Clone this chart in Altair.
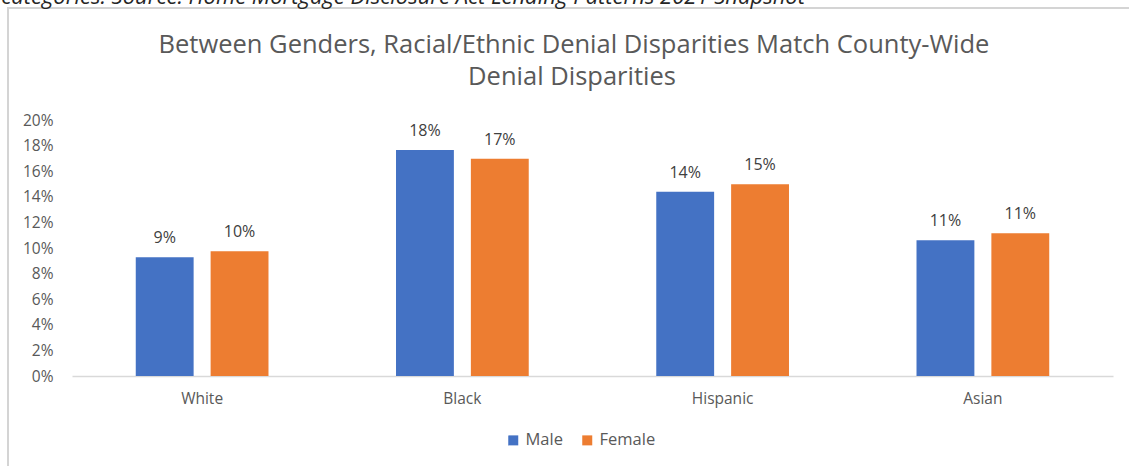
import altair as alt
import pandas as pd

groups = ["White", "Black", "Hispanic", "Asian"]
genders = ["Male", "Female"]
male_rate = [0.0927, 0.1766, 0.1440, 0.1060]
female_rate = [0.0974, 0.1698, 0.1498, 0.1115]
colors = ["#4472C4", "#ED7D31"]
y_ticks = [0.0, 0.02, 0.04, 0.06, 0.08, 0.10, 0.12, 0.14, 0.16, 0.18, 0.20]
title_lines = ["Between Genders, Racial/Ethnic Denial Disparities Match County-Wide",
               "Denial Disparities"]
source_note = "Race categories. Source: Home Mortgage Disclosure Act Lending Patterns 2021 Snapshot"

rows = []
for g, m, f in zip(groups, male_rate, female_rate):
    rows.append({"group": g, "gender": "Male", "rate": m})
    rows.append({"group": g, "gender": "Female", "rate": f})
df = pd.DataFrame(rows)

W, H = 1041, 256
FONT = "Open Sans"

x_enc = alt.X("group:N", sort=groups, title=None,
              scale=alt.Scale(paddingInner=0.49, paddingOuter=0.245),
              axis=alt.Axis(labelAngle=0, labelFontSize=15.5, labelColor="#595959",
                            labelFont=FONT, labelPadding=15, ticks=False,
                            domainColor="#d9d9d9", domainWidth=1.5, grid=False))
xoff_enc = alt.XOffset("gender:N", sort=genders,
                       scale=alt.Scale(paddingInner=0.227, paddingOuter=0))
y_enc = alt.Y("rate:Q", title=None,
              scale=alt.Scale(domain=[0, 0.2], nice=False),
              axis=alt.Axis(values=y_ticks, format=".0%", labelFontSize=15.5,
                            labelColor="#595959", labelFont=FONT, labelPadding=19,
                            labelOverlap=False, ticks=False, domain=False, grid=False))
color_enc = alt.Color("gender:N", sort=genders,
                      scale=alt.Scale(domain=genders, range=colors),
                      legend=alt.Legend(title=None, orient="none", direction="horizontal",
                                        legendX=433, legendY=312, symbolType="square",
                                        symbolSize=100, symbolStrokeWidth=0,
                                        labelFontSize=16.5, labelColor="#595959",
                                        labelFont=FONT, columnPadding=16,
                                        symbolOpacity=1))

base = alt.Chart(df)
bars = base.mark_bar(strokeWidth=0).encode(
    x=x_enc, xOffset=xoff_enc, y=y_enc, color=color_enc)
labels = base.mark_text(baseline="bottom", dy=-11, fontSize=16, color="#404040",
                        font=FONT).encode(
    x=x_enc, xOffset=xoff_enc, y=y_enc,
    text=alt.Text("rate:Q", format=".0%"))

one = alt.Data(values=[{"k": 0}])
frame = alt.Chart(one).mark_rect(fill="transparent", stroke="#d4d4d4",
                                 strokeWidth=2).encode(
    x=alt.value(-64), x2=alt.value(W + 80), y=alt.value(-112), y2=alt.value(H + 140))

title1 = alt.Chart(one).mark_text(text=title_lines[0], fontSize=25.5, color="#595959",
                                  font=FONT, align="center", baseline="alphabetic").encode(
    x=alt.value(502), y=alt.value(-67))
title2 = alt.Chart(one).mark_text(text=title_lines[1], fontSize=25.5, color="#595959",
                                  font=FONT, align="center", baseline="alphabetic").encode(
    x=alt.value(500), y=alt.value(-35))

note = alt.Chart(one).mark_text(
    text=source_note, fontSize=22, fontStyle="italic", color="#262626", font=FONT,
    align="right", baseline="alphabetic").encode(
    x=alt.value(733), y=alt.value(-116))

chart = alt.layer(frame, bars, labels, title1, title2, note).properties(
    width=W, height=H,
    background="white",
    autosize=alt.AutoSizeParams(type="none"),
    padding={"left": 72, "top": 120, "right": 16, "bottom": 90},
).configure_view(strokeWidth=0, stroke=None)

chart.save("out.html", embed_options={"renderer": "svg", "actions": False})
